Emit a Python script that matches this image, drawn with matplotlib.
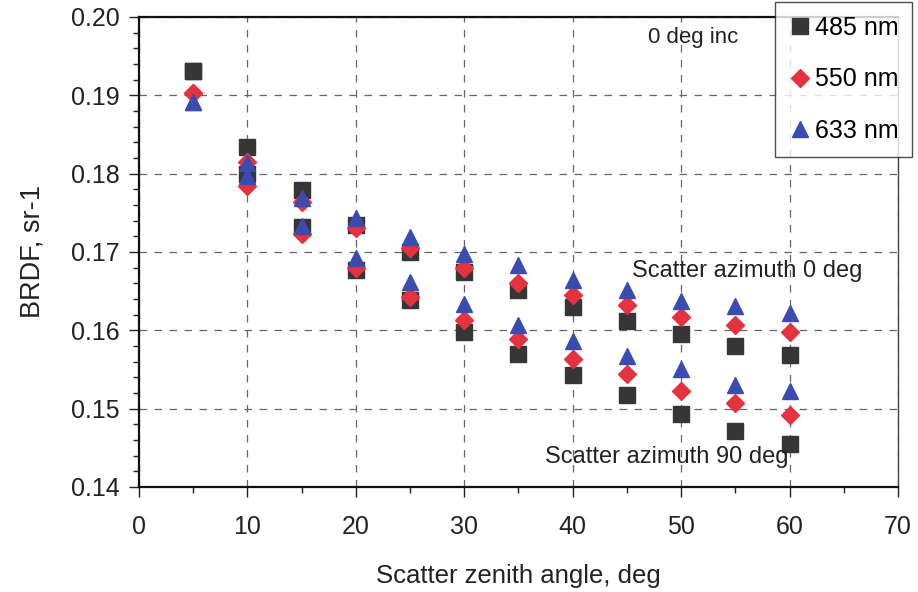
import matplotlib
matplotlib.use("Agg")
import matplotlib.pyplot as plt
from matplotlib.ticker import MultipleLocator, FormatStrFormatter

plt.rcParams["font.family"] = ["Liberation Sans", "DejaVu Sans"]

# Scatter zenith angle (deg)
angles = [5, 10, 15, 20, 25, 30, 35, 40, 45, 50, 55, 60]

# BRDF (sr-1), scatter azimuth 0 deg
brdf_az0_485 = [0.1931, 0.1834, 0.1779, 0.1735, 0.1700, 0.1675, 0.1651, 0.1630, 0.1612, 0.1595, 0.1580, 0.1568]
brdf_az0_550 = [0.1903, 0.1815, 0.1764, 0.1730, 0.1705, 0.1679, 0.1660, 0.1645, 0.1632, 0.1617, 0.1607, 0.1598]
brdf_az0_633 = [0.1892, 0.1814, 0.1769, 0.1743, 0.1719, 0.1698, 0.1683, 0.1664, 0.1651, 0.1638, 0.1631, 0.1622]

# BRDF (sr-1), scatter azimuth 90 deg
brdf_az90_485 = [0.1931, 0.1800, 0.1732, 0.1677, 0.1639, 0.1598, 0.1570, 0.1543, 0.1518, 0.1493, 0.1472, 0.1455]
brdf_az90_550 = [0.1903, 0.1784, 0.1723, 0.1680, 0.1643, 0.1613, 0.1589, 0.1564, 0.1544, 0.1523, 0.1507, 0.1492]
brdf_az90_633 = [0.1892, 0.1797, 0.1733, 0.1692, 0.1662, 0.1634, 0.1607, 0.1586, 0.1567, 0.1551, 0.1530, 0.1522]

labels = ["485 nm", "550 nm", "633 nm"]
colors = ["#363636", "#e5323f", "#3b4cb0"]
markers = ["s", "D", "^"]
sizes = [11.5, 9.0, 12.0]

fig = plt.figure(figsize=(9.18, 5.92), dpi=100)
ax = fig.add_axes([0.1514, 0.1774, 0.8268, 0.7939])

series = [(brdf_az0_485, brdf_az90_485),
          (brdf_az0_550, brdf_az90_550),
          (brdf_az0_633, brdf_az90_633)]

handles = []
for (az0, az90), lab, col, mk, ms in zip(series, labels, colors, markers, sizes):
    h, = ax.plot(angles, az0, linestyle="none", marker=mk, markersize=ms,
                 color=col, markeredgecolor=col, label=lab, zorder=3)
    ax.plot(angles, az90, linestyle="none", marker=mk, markersize=ms,
            color=col, markeredgecolor=col, zorder=3)
    handles.append(h)

ax.set_xlim(0, 70)
ax.set_ylim(0.14, 0.20)
ax.xaxis.set_major_locator(MultipleLocator(10))
ax.xaxis.set_minor_locator(MultipleLocator(5))
ax.yaxis.set_major_locator(MultipleLocator(0.01))
ax.yaxis.set_minor_locator(MultipleLocator(0.002))
ax.yaxis.set_major_formatter(FormatStrFormatter("%.2f"))

ax.tick_params(axis="both", which="major", direction="out", length=7, width=1.0,
               labelsize=18, colors="#222222")
ax.tick_params(axis="y", which="major", pad=7)
ax.tick_params(axis="x", which="major", pad=13)
ax.tick_params(axis="both", which="minor", direction="out", length=4, width=1.0,
               colors="#222222")
ax.tick_params(top=False, right=False)

ax.grid(True, which="major", linestyle=(0, (6, 6)), color="#666666", linewidth=0.9)
ax.set_axisbelow(True)

for side in ["left", "bottom", "top"]:
    ax.spines[side].set_linewidth(1.6)
    ax.spines[side].set_color("#111111")
ax.spines["right"].set_linewidth(1.0)
ax.spines["right"].set_color("#444444")

ax.set_xlabel("Scatter zenith angle, deg", fontsize=18.5, color="#222222", labelpad=18)
ax.set_ylabel("BRDF, sr-1", fontsize=19.5, color="#222222", labelpad=18)

ax.text(51.1, 0.19672, "0 deg inc", fontsize=16, ha="center", va="baseline",
        color="#222222")
ax.text(56.1, 0.16685, "Scatter azimuth 0 deg", fontsize=17, ha="center",
        va="baseline", color="#222222")
ax.text(48.7, 0.14306, "Scatter azimuth 90 deg", fontsize=17, ha="center",
        va="baseline", color="#222222")

leg = fig.legend(handles=handles, loc="upper right",
                 bbox_to_anchor=(912 / 918, 590 / 592), fontsize=18,
                 frameon=True, fancybox=False, edgecolor="#222222",
                 labelspacing=1.1, handletextpad=0.15, handlelength=0.9,
                 borderpad=0.55, borderaxespad=0.0, markerscale=1.0)
leg.get_frame().set_linewidth(1.0)
leg.set_zorder(10)

fig.savefig("out.png", dpi=100, facecolor="white")
